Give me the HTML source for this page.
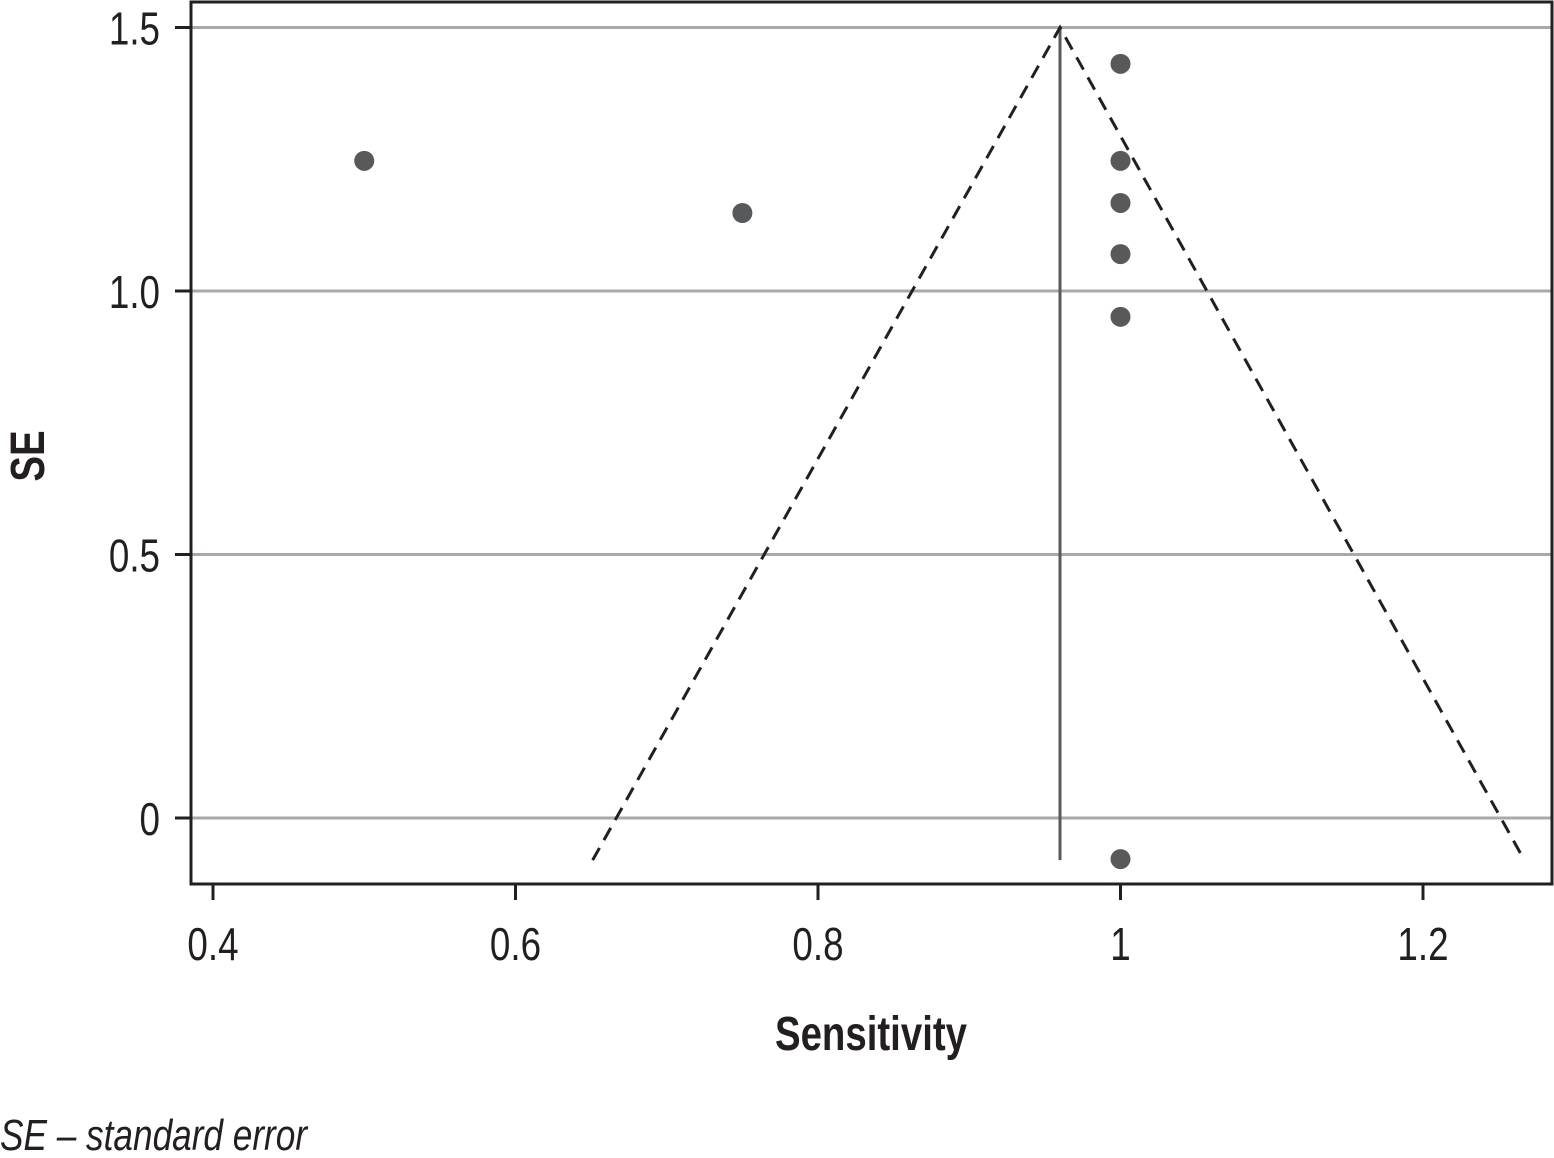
<!DOCTYPE html>
<html><head><meta charset="utf-8"><style>
html,body{margin:0;padding:0;background:#fff}
svg text{font-family:"Liberation Sans",sans-serif;fill:#231f20}
</style></head><body>
<svg width="1554" height="1153" viewBox="0 0 1554 1153" xmlns="http://www.w3.org/2000/svg">
<g id="grid"></g>
<g id="marks"></g>
<rect x="191" y="2" width="1361" height="882" fill="none" stroke="#231f20" stroke-width="3"/>
<g id="axes"></g>
<text x="871" y="1050" font-size="48" font-weight="bold" text-anchor="middle" transform="translate(871 0) scale(0.8 1) translate(-871 0)">Sensitivity</text>
<text x="0" y="0" font-size="48" font-weight="bold" text-anchor="middle" transform="translate(44 456) rotate(-90) scale(0.8 1)">SE</text>
<text x="0" y="1150" font-size="44" font-style="italic" transform="scale(0.8 1)">SE – standard error</text>
</svg>
<script>
const xTicks=[0.4,0.6,0.8,1,1.2];
const xTickLabels=["0.4","0.6","0.8","1","1.2"];
const yTicks=[0,0.5,1.0,1.5];
const yTickLabels=["0","0.5","1.0","1.5"];
const pointX=[0.5,0.75,1,1,1,1,1,1];
const pointY=[1.247,1.148,1.431,1.247,1.167,1.070,0.951,-0.078];
const pooled=0.96;
const funnelTop=1.5;
const funnelBottom=-0.08;
const funnelLeft=0.651;
const funnelRight=1.267;

const NS="http://www.w3.org/2000/svg";
function sx(v){return 213+(v-0.4)*1512.5;}
function sy(v){return 818-v*527;}
function mk(tag,attrs,parent){const e=document.createElementNS(NS,tag);for(const k in attrs)e.setAttribute(k,attrs[k]);parent.appendChild(e);return e;}
const grid=document.getElementById('grid'),marks=document.getElementById('marks'),axes=document.getElementById('axes');
yTicks.forEach((t,i)=>{
  const g=mk('line',{x1:191,x2:1552,y1:sy(t),y2:sy(t),stroke:'#a7a9ac','stroke-width':3},grid);
  
  
  const tk=mk('line',{x1:175,x2:191,y1:sy(t),y2:sy(t),stroke:'#231f20','stroke-width':3},axes);
  
  
  const tx=mk('text',{x:0,y:0,'font-size':46,'text-anchor':'end',transform:`translate(160 ${sy(t)+17}) scale(0.8 1)`},axes);
  tx.textContent=yTickLabels[i];
  
  
});
xTicks.forEach((t,i)=>{
  const tk=mk('line',{x1:sx(t),x2:sx(t),y1:884,y2:900,stroke:'#231f20','stroke-width':3},axes);
  
  
  const tx=mk('text',{x:0,y:0,'font-size':46,'text-anchor':'middle',transform:`translate(${sx(t)} 960) scale(0.8 1)`},axes);
  tx.textContent=xTickLabels[i];
  
  
});
const vl=mk('line',{x1:sx(pooled),x2:sx(pooled),y1:sy(funnelTop),y2:sy(funnelBottom),stroke:'#58595b','stroke-width':3},marks);


const dl=mk('polyline',{points:`${sx(funnelLeft)},${sy(funnelBottom)} ${sx(pooled)},${sy(funnelTop)} ${sx(funnelRight)},${sy(funnelBottom)}`,fill:'none',stroke:'#231f20','stroke-width':3,'stroke-dasharray':'14 9'},marks);


pointX.forEach((x,i)=>{
  const c=mk('circle',{cx:sx(x),cy:sy(pointY[i]),r:10,fill:'#58595b'},marks);
  
  
});
</script>
</body></html>
